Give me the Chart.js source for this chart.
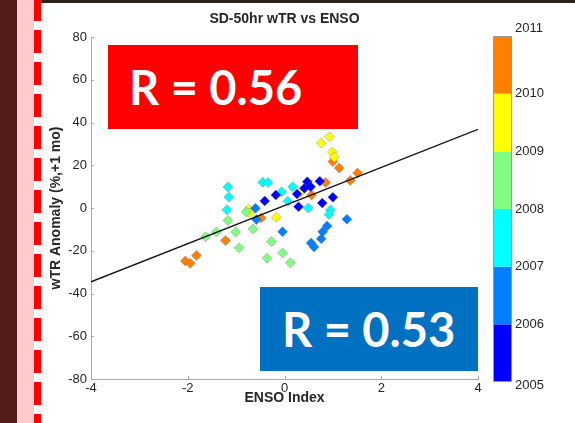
<!DOCTYPE html>
<html lang="en">
<head>
<meta charset="UTF-8">
<title>SD-50hr wTR vs ENSO</title>
<script src="https://cdn.jsdelivr.net/npm/chart.js@4.4.1/dist/chart.umd.min.js"></script>
<style>
    html, body { margin: 0; padding: 0; background: #fff; }
    #wrap { position: relative; width: 575px; height: 423px; overflow: hidden; }
    #chart { position: absolute; left: 0; top: 0; }
    .strip-dark { position: absolute; left: 0; top: 0; width: 17px; height: 423px; background: #521d1a; }
    .strip-pink { position: absolute; left: 17px; top: 0; width: 17px; height: 423px; background: #ffcccc; }
    .dash { position: absolute; left: 34px; top: 0; width: 7px; height: 423px;
        background: repeating-linear-gradient(to bottom, #ff0000 0px, #ff0000 23px, transparent 23px, transparent 32px);
        background-position: 0 -2px; }
    .topbar { position: absolute; left: 41px; top: 0; width: 534px; height: 3px; background: #2b221e; }
    .rbox { position: absolute; color: #fff; font-family: Lato, "Open Sans", sans-serif; font-weight: bold;
        font-size: 47px; display: flex; align-items: center; box-sizing: border-box; }
    #red { left: 108px; top: 45px; width: 250px; height: 84px; background: #ff0000; padding-left: 21px; }
    #blue { left: 260px; top: 287px; width: 218px; height: 84px; background: #0070c0; padding-left: 22px; }
</style>
</head>
<body>
<div id="wrap">
    <canvas id="chart" width="575" height="423"></canvas>
    <div class="strip-dark"></div>
    <div class="strip-pink"></div>
    <div class="dash"></div>
    <div class="topbar"></div>
    <div class="rbox" id="red">R = 0.56</div>
    <div class="rbox" id="blue">R = 0.53</div>
</div>

<script>
    // colorbar labels and colours (one colour per year band)
    const yearLabels = ['2005', '2006', '2007', '2008', '2009', '2010', '2011'];
    const yearColors = ['#0000ff', '#0080ff', '#00ffff', '#80ff80', '#ffff00', '#ff8000'];

    // ENSO index (x) and wTR anomaly (y) per year
    const enso2005 = [-0.41, -0.18, 0.26, 0.29, 0.41, 0.47, 0.54, 0.73, 0.78, 1.00];
    const anom2005 = [3.3, 6.1, 6.5, 0.6, 9.2, 12.3, 10.0, 12.5, 2.3, 5.0];

    const enso2006 = [-0.60, -0.58, -0.04, 0.55, 0.61, 0.76, 0.79, 0.88, 1.29];
    const anom2006 = [-0.1, -5.4, -11.1, -16.4, -18.2, -14.4, -11.1, -8.4, -5.3];

    const enso2007 = [-1.17, -1.15, -1.19, -0.45, -0.34, -0.06, 0.17, 0.07, 0.49, 0.95, 0.92];
    const anom2007 = [9.8, 5.1, -0.8, 12.1, 11.9, 7.6, 10.0, 3.1, 0.0, -0.9, -3.0];

    const enso2008 = [-1.63, -1.41, -1.17, -1.01, -0.94, -0.65, -0.79, -0.36, -0.27, -0.04, 0.12];
    const anom2008 = [-13.4, -11.2, -5.8, -11.2, -18.6, -9.8, -1.9, -23.5, -15.7, -21.0, -25.6];

    const enso2009 = [0.76, 0.93, 0.99, 1.03, -0.74, -0.72, -0.17, 0.35];
    const anom2009 = [30.4, 33.3, 26.2, 23.8, -0.6, -2.3, -4.4, 7.6];

    const enso2010 = [-2.05, -1.95, -1.82, -1.22, -0.48, 0.56, 0.85, 1.00, 1.13, 1.36, 1.51];
    const anom2010 = [-24.8, -25.9, -22.2, -15.2, -4.7, 6.1, 11.9, 21.7, 18.7, 12.9, 16.4];

    // regression line end points
    const fitX = [-4, 4];
    const fitY = [-34.5, 36.8];

    const xTicks = [-4, -2, 0, 2, 4];
    const yTicks = [-80, -60, -40, -20, 0, 20, 40, 60, 80];

    const FONT = '"Liberation Sans", Arial, sans-serif';
    const TEXT = '#262626';

    const pairs = (xs, ys) => xs.map((v, i) => ({x: v, y: ys[i]}));

    const yearSets = [
        [enso2005, anom2005], [enso2006, anom2006], [enso2007, anom2007],
        [enso2008, anom2008], [enso2009, anom2009], [enso2010, anom2010]
    ].map(([xs, ys], i) => ({
        label: yearLabels[i],
        data: pairs(xs, ys),
        pointStyle: 'rectRot',
        pointRadius: 5,
        backgroundColor: yearColors[i],
        borderColor: 'rgba(110,110,110,0.55)',
        borderWidth: 0.7
    }));

    const fitLine = {
        type: 'line',
        label: 'fit',
        data: pairs(fitX, fitY),
        borderColor: '#111',
        borderWidth: 1.4,
        pointRadius: 0,
        fill: false
    };

    // inward tick marks and the year colorbar
    const extras = {
        id: 'extras',
        afterDraw(chart) {
            const {ctx, chartArea} = chart;
            const sx = chart.scales.x, sy = chart.scales.y;
            ctx.save();
            ctx.strokeStyle = '#a8a8a8';
            ctx.lineWidth = 1;
            xTicks.forEach(v => {
                const px = Math.round(sx.getPixelForValue(v)) + 0.5;
                ctx.beginPath();
                ctx.moveTo(px, chartArea.bottom);
                ctx.lineTo(px, chartArea.bottom - 3);
                ctx.stroke();
            });
            yTicks.forEach(v => {
                const py = Math.round(sy.getPixelForValue(v)) + 0.5;
                ctx.beginPath();
                ctx.moveTo(chartArea.left, py);
                ctx.lineTo(chartArea.left + 3, py);
                ctx.stroke();
            });

            const top = 36, bottom = 382, left = 493, w = 19;
            const seg = (bottom - top) / yearColors.length;
            yearColors.forEach((c, i) => {
                ctx.fillStyle = c;
                ctx.fillRect(left, bottom - (i + 1) * seg, w, seg);
            });
            ctx.strokeStyle = '#9a9a9a';
            ctx.strokeRect(left + 0.5, top + 0.5, w - 1, bottom - top - 1);
            ctx.fillStyle = TEXT;
            ctx.font = '13px ' + FONT;
            ctx.textBaseline = 'middle';
            ctx.textAlign = 'left';
            yearLabels.forEach((t, i) => {
                // end labels sit a little outside the bar, as in the source figure
                let dy = 0;
                if (i === 0) dy = 3;
                if (i === yearLabels.length - 1) dy = -8;
                ctx.fillText(t, left + w + 3, bottom - i * seg + dy);
            });
            ctx.restore();
        }
    };

    new Chart(document.getElementById('chart'), {
        type: 'scatter',
        data: {datasets: [fitLine, ...yearSets]},
        options: {
            responsive: false,
            animation: false,
            layout: {padding: {left: 44, right: 97, top: 0, bottom: 12}},
            plugins: {
                legend: {display: false},
                tooltip: {enabled: false},
                title: {
                    display: true,
                    text: 'SD-50hr wTR vs ENSO',
                    fullSize: false,
                    color: TEXT,
                    font: {family: FONT, size: 14, weight: 'bold'},
                    padding: {top: 10.6, bottom: 9.6}
                }
            },
            scales: {
                x: {
                    type: 'linear',
                    min: -4, max: 4,
                    ticks: {stepSize: 2, padding: 2, color: TEXT, font: {family: FONT, size: 13}},
                    grid: {drawOnChartArea: false, drawTicks: false},
                    border: {color: '#a8a8a8'},
                    title: {display: true, text: 'ENSO Index', color: TEXT,
                        font: {family: FONT, size: 14, weight: 'bold'}, padding: {top: 0, bottom: 4}},
                    afterFit(s) { s.height = 32; }
                },
                y: {
                    type: 'linear',
                    min: -80, max: 80,
                    ticks: {stepSize: 20, padding: 4, color: TEXT, font: {family: FONT, size: 13}},
                    grid: {drawOnChartArea: false, drawTicks: false},
                    border: {color: '#a8a8a8'},
                    title: {display: true, text: 'wTR Anomaly (%,+1 mo)', color: TEXT,
                        font: {family: FONT, size: 14, weight: 'bold'}, padding: {top: 4, bottom: 0}},
                    afterFit(s) { s.width = 47; }
                }
            }
        },
        plugins: [extras]
    });
</script>
</body>
</html>
